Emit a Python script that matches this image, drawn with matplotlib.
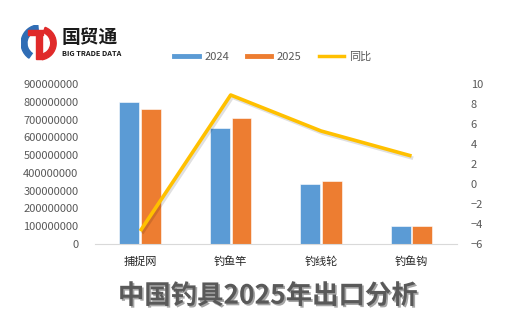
import matplotlib
matplotlib.use("Agg")
import matplotlib.pyplot as plt
import matplotlib.patheffects as pe
from matplotlib.patches import Wedge, Rectangle
from matplotlib.lines import Line2D
import numpy as np

plt.rcParams['font.family'] = ['Noto Sans CJK SC', 'DejaVu Sans']

# Export values (USD) and year-on-year change (%)
categories = ["捕捉网", "钓鱼竿", "钓线轮", "钓鱼钩"]
exports_2024 = [800000000, 655000000, 338000000, 103000000]
exports_2025 = [760000000, 710000000, 356000000, 103000000]
yoy_pct = [-4.7, 8.9, 5.3, 2.8]

BLUE = "#5B9BD5"
ORANGE = "#ED7D31"
GOLD = "#FFC000"
TXT = "#595959"

fig = plt.figure(figsize=(5.25, 3.32), dpi=100)
ax = fig.add_axes([0.181, 0.265, 0.689, 0.482])
ax2 = ax.twinx()

x = np.arange(len(categories))
w = 0.22
ax.bar(x - 0.12, exports_2024, w, color=BLUE, edgecolor="white", linewidth=0.4, zorder=2)
ax.bar(x + 0.12, exports_2025, w, color=ORANGE, edgecolor="white", linewidth=0.4, zorder=2)

ax2.plot(x, yoy_pct, color=GOLD, linewidth=2.6, solid_capstyle="butt",
         path_effects=[pe.SimpleLineShadow(offset=(1.2, -1.6), alpha=0.12, shadow_color="black"),
                       pe.Normal()])

ax.set_xlim(-0.5, len(categories) - 0.5)
ax.set_ylim(0, 900000000)
ax.set_yticks(np.arange(0, 900000001, 100000000))
ax.set_yticklabels([f"{int(v)}" for v in np.arange(0, 900000001, 100000000)])
ax2.set_ylim(-6, 10)
ax2.set_yticks(np.arange(-6, 11, 2))

ax.set_xticks(x)
ax.set_xticklabels(categories, fontsize=8.5, color="#262626")

for a in (ax, ax2):
    for s in a.spines.values():
        s.set_visible(False)
    a.tick_params(length=0, labelsize=8, colors=TXT)
ax.tick_params(axis="x", pad=9, colors="#262626")
ax.tick_params(axis="y", pad=12)
ax2.tick_params(axis="y", pad=10)
ax.spines["bottom"].set_visible(True)
ax.spines["bottom"].set_color("#D9D9D9")

handles = [Line2D([], [], color=BLUE, lw=3.5),
           Line2D([], [], color=ORANGE, lw=3.5),
           Line2D([], [], color=GOLD, lw=2.5)]
fig.legend(handles, ["2024", "2025", "同比"], loc="center", bbox_to_anchor=(0.52, 0.828),
           ncol=3, frameon=False, fontsize=8, labelcolor=TXT, handlelength=2.2,
           columnspacing=1.6, handletextpad=0.5)

# brand mark
logo = fig.add_axes([0.04, 0.815, 0.07, 0.11])
logo.set_xlim(-1, 1)
logo.set_ylim(-1, 1)
logo.set_aspect("equal")
logo.axis("off")
logo.add_patch(Wedge((0, 0), 1.0, 95, 235, width=0.32, color="#2F6DB5"))
logo.add_patch(Wedge((0, 0), 0.92, -80, 70, width=0.3, color="#E02A2A"))
logo.add_patch(Rectangle((-0.2, -0.85), 0.32, 1.45, color="#E02A2A"))
logo.add_patch(Rectangle((-0.65, 0.45), 0.85, 0.25, color="#E02A2A"))
fig.text(0.117, 0.888, "国贸通", fontsize=13.5, fontweight="bold", color="#1A1A1A",
         va="center", ha="left")
fig.text(0.119, 0.84, "BIG TRADE DATA", fontsize=5.3, fontweight="bold", color="#1A1A1A",
         va="center", ha="left")

fig.text(0.51, 0.108, "中国钓具2025年出口分析", fontsize=19, fontweight="bold", color=TXT,
         ha="center", va="center",
         path_effects=[pe.withSimplePatchShadow(offset=(1.2, -1.2), alpha=0.35, shadow_rgbFace="black")])

fig.savefig("out.png", dpi=100)
